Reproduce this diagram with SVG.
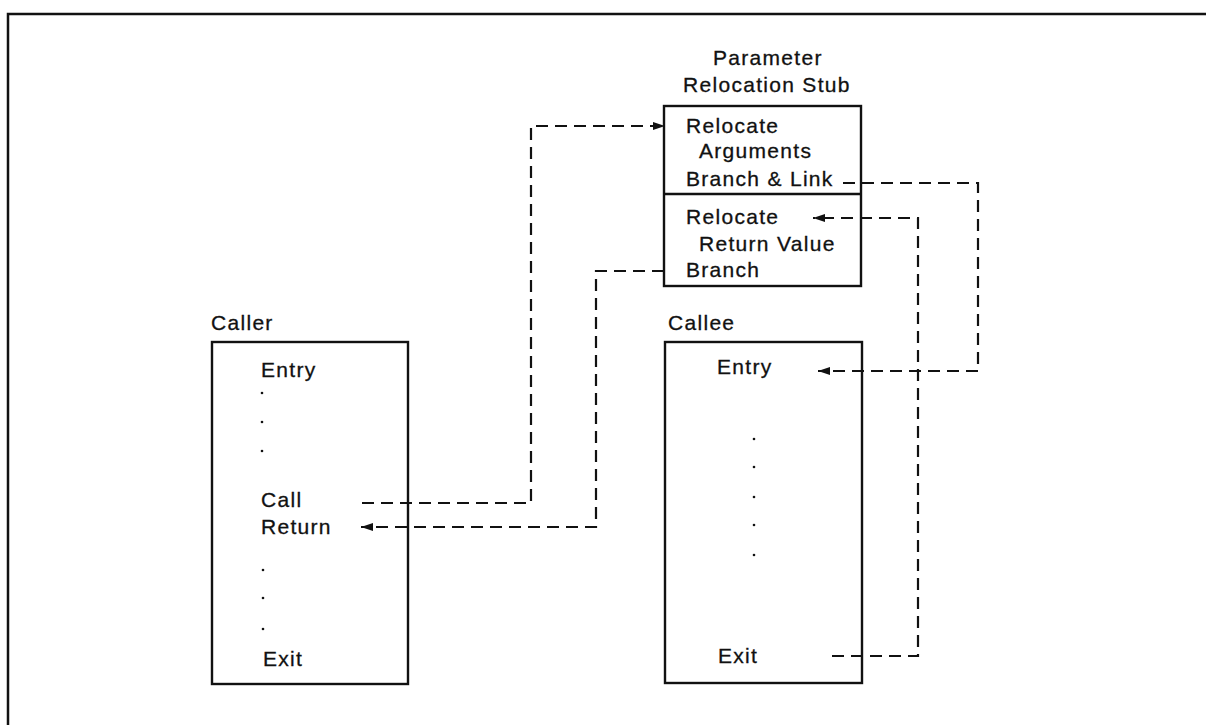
<svg xmlns="http://www.w3.org/2000/svg" width="1206" height="725" viewBox="0 0 1206 725">
<defs>
<style>
text{font-family:"Liberation Sans",Arial,sans-serif;font-size:21px;letter-spacing:1.3px;fill:#111;stroke:#111;stroke-width:0.3}
.box{fill:none;stroke:#111;stroke-width:2.4}
.dash{fill:none;stroke:#111;stroke-width:2.2;stroke-dasharray:12 7}
.dot{fill:#111}
</style>
<marker id="ah" viewBox="0 0 12 8" refX="12" refY="4" markerWidth="12" markerHeight="8" markerUnits="userSpaceOnUse" orient="auto">
<path d="M0,0 L12,4 L0,8 Z" fill="#111"/>
</marker>
</defs>
<rect width="1206" height="725" fill="#fff"/>
<path d="M8,725 V14 H1206" fill="none" stroke="#111" stroke-width="2.5"/>

<g id="stub">
<text x="713" y="65">Parameter</text>
<text x="683" y="92">Relocation Stub</text>
<rect class="box" x="664" y="106" width="197" height="180"/>
<line class="box" x1="664" y1="194" x2="861" y2="194"/>
<text x="686" y="133">Relocate</text>
<text x="699" y="158">Arguments</text>
<text x="686" y="186">Branch &amp; Link</text>
<text x="686" y="224">Relocate</text>
<text x="699" y="251">Return Value</text>
<text x="686" y="277">Branch</text>
</g>

<g id="caller">
<text x="211" y="330">Caller</text>
<rect class="box" x="212" y="342" width="196" height="342"/>
<text x="261" y="377">Entry</text>
<circle class="dot" cx="262" cy="393" r="1.3"/>
<circle class="dot" cx="262" cy="422" r="1.3"/>
<circle class="dot" cx="262" cy="451" r="1.3"/>
<text x="261" y="507">Call</text>
<text x="261" y="534">Return</text>
<circle class="dot" cx="263" cy="570" r="1.3"/>
<circle class="dot" cx="263" cy="598" r="1.3"/>
<circle class="dot" cx="263" cy="629" r="1.3"/>
<text x="263" y="666">Exit</text>
</g>

<g id="callee">
<text x="668" y="330">Callee</text>
<rect class="box" x="665" y="342" width="197" height="341"/>
<text x="717" y="374">Entry</text>
<circle class="dot" cx="754" cy="439" r="1.3"/>
<circle class="dot" cx="754" cy="467" r="1.3"/>
<circle class="dot" cx="754" cy="497" r="1.3"/>
<circle class="dot" cx="754" cy="525" r="1.3"/>
<circle class="dot" cx="754" cy="555" r="1.3"/>
<text x="718" y="663">Exit</text>
</g>

<g id="connectors">
<path class="dash" d="M362,503 H531 V126 H665" marker-end="url(#ah)"/>
<path class="dash" d="M843,183 H978 V371 H818" marker-end="url(#ah)"/>
<path class="dash" d="M832,656 H918 V218 H813" marker-end="url(#ah)"/>
<path class="dash" d="M664,271 H596 V527 H361" marker-end="url(#ah)"/>
</g>
</svg>
